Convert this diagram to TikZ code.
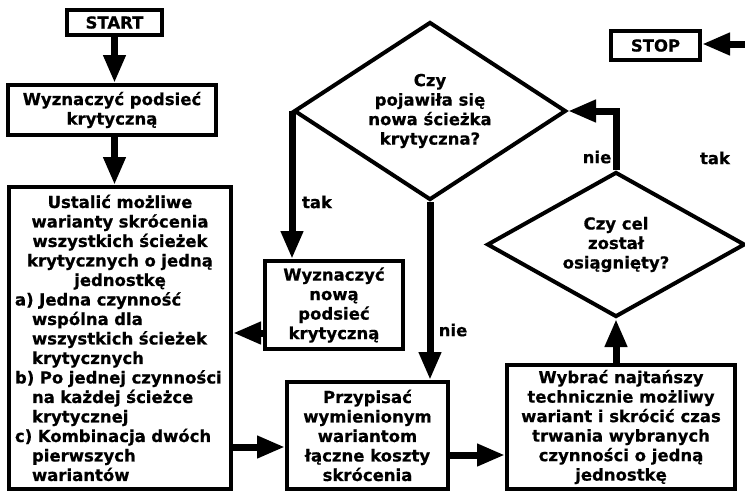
\documentclass[tikz,border=0pt]{standalone}
\usepackage{fontspec}
\setmainfont[BoldFeatures={FakeBold=0.6}]{DejaVu Sans}
\usetikzlibrary{arrows.meta,shapes.geometric}
\begin{document}
\begin{tikzpicture}[x=1pt,y=-1pt,
  every node/.style={font=\fontsize{16.5}{19.5}\selectfont\bfseries},
  box/.style={draw, line width=4pt, inner sep=0pt, align=center},
  plainbox/.style={draw, line width=4pt, inner sep=0pt},
  dec/.style={draw, diamond, line width=4pt, inner sep=0pt, align=center},
  arr/.style={line width=7pt, -{Triangle[length=28pt,width=21pt]}},
  lbl/.style={inner sep=0pt}]
\useasboundingbox (0,0) rectangle (745,491);
% boxes
\node[box, minimum width=95pt, minimum height=25pt] (start) at (114.5,22.5) {START};
\node[box, minimum width=208pt, minimum height=50pt] (podsiec) at (112,110) {Wyznaczyć podsieć\\krytyczną};
\node[plainbox, minimum width=222pt, minimum height=302pt, text width=210pt,
      font=\fontsize{16.5}{19.5}\selectfont\bfseries] (ustalic) at (120,338)
  {\parindent=0pt\parskip=0pt
   {\centering Ustalić możliwe\par warianty skrócenia\par wszystkich ścieżek\par krytycznych o jedną\par jednostkę\par}%
   {\raggedright
    a) Jedna czynność\par
    \hspace*{17pt}wspólna dla\par
    \hspace*{17pt}wszystkich ścieżek\par
    \hspace*{17pt}krytycznych\par
    b) Po jednej czynności\par
    \hspace*{17pt}na każdej ścieżce\par
    \hspace*{17pt}krytycznej\par
    c) Kombinacja dwóch\par
    \hspace*{17pt}pierwszych\par
    \hspace*{17pt}wariantów\par}};
\node[box, minimum width=138pt, minimum height=88pt] (nowa) at (334,305) {Wyznaczyć\\nową\\podsieć\\krytyczną};
\node[box, minimum width=161pt, minimum height=107pt] (przypisac) at (367.5,435.5) {Przypisać\\wymienionym\\wariantom\\łączne koszty\\skrócenia};
\node[box, minimum width=228pt, minimum height=124pt] (wybrac) at (621,427) {Wybrać najtańszy\\technicznie możliwy\\wariant i skrócić czas\\trwania wybranych\\czynności o jedną\\jednostkę};
\node[box, minimum width=89pt, minimum height=29pt] (stop) at (655.5,45.5) {STOP};
% decisions
\node[dec, shape aspect=1.6, minimum width=272pt, minimum height=178pt] (pojawila) at (430,111) {Czy\\pojawiła się\\nowa ścieżka\\krytyczna?};
\node[dec, shape aspect=1.8, minimum width=258pt, minimum height=145pt] (cel) at (616,244.5) {Czy cel\\został\\osiągnięty?};
% connectors
\coordinate (stopin) at (745,44);
\draw[arr] (start.south) -- (start.south |- podsiec.north);
\draw[arr] (start.south |- podsiec.south) -- (start.south |- ustalic.north);
\draw[arr] (pojawila.west) -- (pojawila.west |- nowa.north);
\draw[arr] (nowa.west |- 0,333) -- (ustalic.east |- 0,333);
\draw[arr] (pojawila.south) -- (pojawila.south |- przypisac.north);
\draw[arr] (ustalic.east |- 0,447) -- (przypisac.west |- 0,447);
\draw[arr] (przypisac.east |- 0,455) -- (wybrac.west |- 0,455);
\draw[arr] (cel.south |- wybrac.north) -- (cel.south);
\draw[arr] (cel.north) |- (pojawila.east);
\draw[arr] (stopin) -- (stop.east |- stopin);
% labels
\node[lbl] (tak1) at (317,202) {tak};
\node[lbl] (nie1) at (453,330) {nie};
\node[lbl] (nie2) at (597,157) {nie};
\node[lbl] (tak2) at (715,158) {tak};
\end{tikzpicture}
\end{document}
